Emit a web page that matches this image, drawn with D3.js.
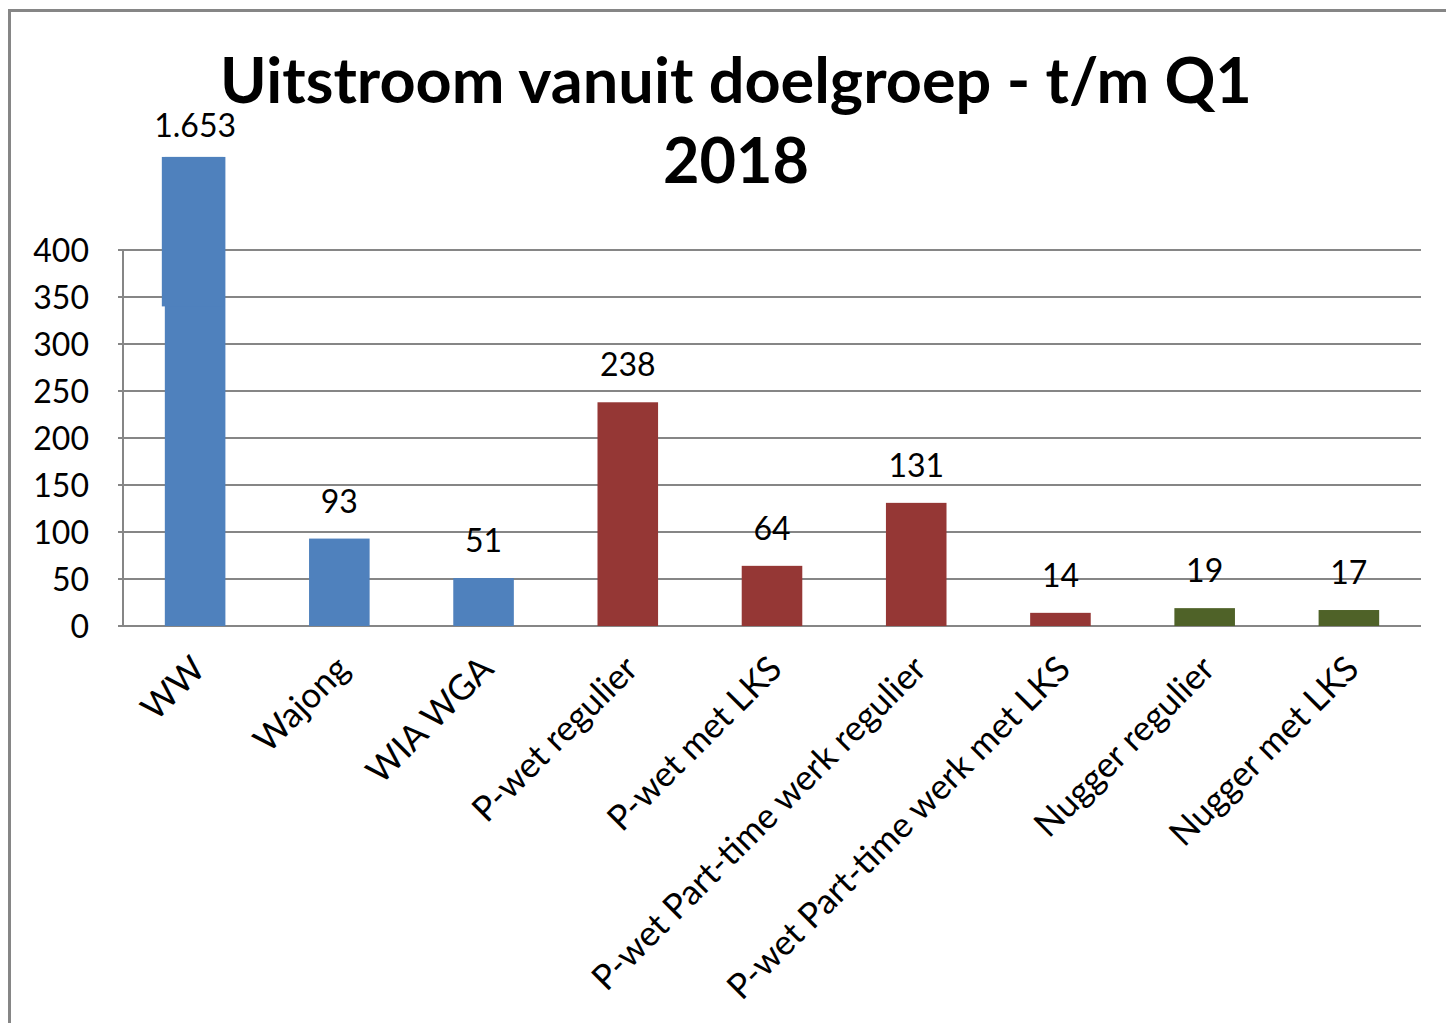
<!DOCTYPE html>
<html>
<head>
<meta charset="utf-8">
<script src="https://cdn.jsdelivr.net/npm/d3@7"></script>
<style>
  body { margin: 0; background: #fff; }
  svg { display: block; font-family: Lato, 'Open Sans', sans-serif; }
  .title { font-weight: bold; font-size: 63px; fill: #000; }
  .label { font-size: 32px; fill: #000; }
  .cat { font-size: 35px; fill: #000; }
</style>
</head>
<body>
<svg class="bar-chart"></svg>
<script>
const categories = ['WW', 'Wajong', 'WIA WGA', 'P-wet regulier', 'P-wet met LKS',
  'P-wet Part-time werk regulier', 'P-wet Part-time werk met LKS', 'Nugger regulier', 'Nugger met LKS'];
const values = [1653, 93, 51, 238, 64, 131, 14, 19, 17];
const groups = ['uwv', 'uwv', 'uwv', 'pwet', 'pwet', 'pwet', 'pwet', 'nugger', 'nugger'];
const yTicks = [0, 50, 100, 150, 200, 250, 300, 350, 400];
const titleLines = ['Uitstroom vanuit doelgroep - t/m Q1', '2018'];

// the WW bar runs off the top of the axis (broken bar)
const capValue = 499;
const breakValue = 340;

const colors = { uwv: '#4f81bd', pwet: '#953735', nugger: '#4f6228' };

const chart = { width: 1446, height: 1023 };
const margin = { left: 123, right: 25, top: 250, bottom: 397 };

const svg = d3.select('svg.bar-chart')
  .attr('width', chart.width)
  .attr('height', chart.height);

// outer frame
svg.append('rect')
  .attr('x', 9.5).attr('y', 10.5)
  .attr('width', 1600).attr('height', 1200)
  .attr('fill', 'none')
  .attr('stroke', '#868686')
  .attr('stroke-width', 3);

const x = d3.scaleBand()
  .domain(categories)
  .range([margin.left, chart.width - margin.right])
  .paddingInner(0.58)
  .paddingOuter(0.29);

const y = d3.scaleLinear()
  .domain([0, 400])
  .range([chart.height - margin.bottom, margin.top]);

// grid lines
svg.append('g')
  .selectAll('line').data(yTicks)
  .enter().append('line')
  .attr('x1', margin.left - 5)
  .attr('x2', chart.width - margin.right)
  .attr('y1', d => y(d))
  .attr('y2', d => y(d))
  .attr('stroke', '#868686')
  .attr('stroke-width', 2);

svg.append('line')
  .attr('x1', margin.left).attr('x2', margin.left)
  .attr('y1', y(0)).attr('y2', y(400))
  .attr('stroke', '#868686')
  .attr('stroke-width', 2);

// y labels
svg.append('g')
  .selectAll('text').data(yTicks)
  .enter().append('text')
  .attr('class', 'label')
  .attr('x', margin.left - 34)
  .attr('y', d => y(d))
  .attr('dy', '0.36em')
  .attr('text-anchor', 'end')
  .text(d => d);

const data = categories.map((c, i) => ({ name: c, value: values[i], group: groups[i] }));

const entries = svg.selectAll('g.entry').data(data)
  .enter().append('g')
  .attr('class', 'entry');

entries.each(function (d) {
  const entry = d3.select(this);
  const shown = Math.min(d.value, capValue);
  const cx = x(d.name) + x.bandwidth() / 2;

  entry.append('rect')
    .attr('x', x(d.name))
    .attr('y', y(shown))
    .attr('width', x.bandwidth())
    .attr('height', y(0) - y(shown))
    .attr('fill', colors[d.group]);

  if (d.value > capValue) {
    // pasted top part, a little to the left
    entry.append('rect')
      .attr('x', x(d.name) - 3)
      .attr('y', y(shown))
      .attr('width', x.bandwidth() + 1)
      .attr('height', y(breakValue) - y(shown))
      .attr('fill', colors[d.group]);
  }

  entry.append('text')
    .attr('class', 'label')
    .attr('x', cx)
    .attr('y', y(shown) - (d.value > capValue ? 20 : 26))
    .attr('text-anchor', 'middle')
    .text(d3.format(',')(d.value).replace(/,/g, '.'));

  entry.append('text')
    .attr('class', 'cat')
    .attr('text-anchor', 'end')
    .attr('transform', `translate(${cx + 12}, ${y(0) + 45}) rotate(-45)`)
    .text(d.name);
});

// title
svg.append('g')
  .selectAll('text').data(titleLines)
  .enter().append('text')
  .attr('class', 'title')
  .attr('x', 736)
  .attr('y', (d, i) => 103 + i * 80)
  .attr('text-anchor', 'middle')
  .text(d => d);
</script>
</body>
</html>
